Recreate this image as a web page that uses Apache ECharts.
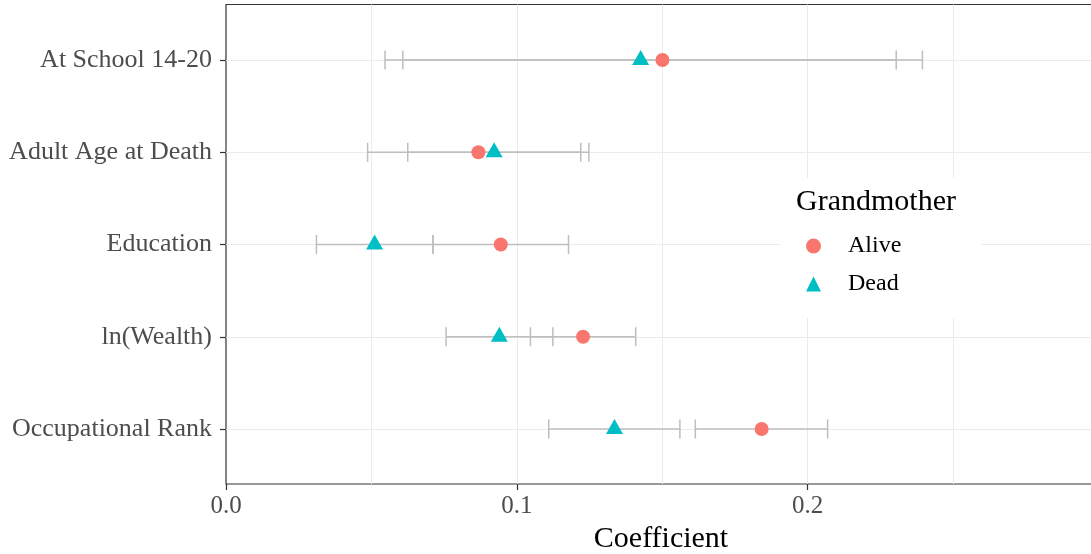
<!DOCTYPE html>
<html>
<head>
<meta charset="utf-8">
<script src="https://cdn.jsdelivr.net/npm/echarts@6/dist/echarts.min.js"></script>
<style>
html,body{margin:0;padding:0;background:#fff;}
#chart{width:1091px;height:554px;}
</style>
</head>
<body>
<div id="chart"></div>
<script>
var categories = ['At School 14-20', 'Adult Age at Death', 'Education', 'ln(Wealth)', 'Occupational Rank'];
var aliveEst = [0.1501, 0.0868, 0.0945, 0.1228, 0.1842];
var aliveLo  = [0.0608, 0.0487, 0.0712, 0.1047, 0.1614];
var aliveHi  = [0.2395, 0.1248, 0.1178, 0.1409, 0.2069];
var deadEst  = [0.1426, 0.0922, 0.0511, 0.0940, 0.1336];
var deadLo   = [0.0547, 0.0625, 0.0311, 0.0757, 0.1110];
var deadHi   = [0.2305, 0.1220, 0.0712, 0.1124, 0.1561];
var xTickLabels = ['0.0', '0.1', '0.2'];

var FONT = 'Liberation Serif';
var xMin = 0, xMax = 0.2992;

function ciData(lo, hi) {
  return lo.map(function (v, i) { return [v, hi[i], i]; });
}
function ptData(est) {
  return est.map(function (v, i) { return [v, i]; });
}
function errRender(params, api) {
  var idx = api.value(2);
  var a = api.coord([api.value(0), idx]);
  var b = api.coord([api.value(1), idx]);
  var h = 9.5;
  var st = { stroke: '#bebebe', lineWidth: 1.5, fill: null };
  return {
    type: 'group',
    children: [
      { type: 'line', shape: { x1: a[0], y1: a[1], x2: b[0], y2: b[1] }, style: st },
      { type: 'line', shape: { x1: a[0], y1: a[1] - h, x2: a[0], y2: a[1] + h }, style: st },
      { type: 'line', shape: { x1: b[0], y1: b[1] - h, x2: b[0], y2: b[1] + h }, style: st }
    ]
  };
}

var chart = echarts.init(document.getElementById('chart'), null, { renderer: 'canvas' });
chart.setOption({
  animation: false,
  backgroundColor: '#fff',
  textStyle: { fontFamily: FONT },
  title: {
    text: 'Grandmother',
    left: 796, top: 187,
    padding: 0,
    textStyle: { fontFamily: FONT, fontSize: 30, fontWeight: 'normal', color: '#000' }
  },
  legend: {
    data: [{ name: 'Alive', icon: 'circle' }, { name: 'Dead', icon: 'triangle' }],
    orient: 'vertical',
    left: 780, top: 178,
    padding: [56, 80, 22, 26],
    backgroundColor: '#fff',
    itemWidth: 15, itemHeight: 15,
    itemGap: 14,
    textStyle: { fontFamily: FONT, fontSize: 24, color: '#000', lineHeight: 24, padding: [0, 0, 0, 22] }
  },
  grid: [
    { left: 226, width: 870, top: 4.5, height: 479.5, outerBoundsMode: 'none', containLabel: false,
      show: true, borderColor: '#333', borderWidth: 1.2, backgroundColor: 'transparent' },
    { left: 226, width: 870, top: 60, height: 369, outerBoundsMode: 'none', containLabel: false }
  ],
  xAxis: [
    {
      gridIndex: 0, type: 'value', min: xMin, max: xMax, interval: 0.1,
      name: 'Coefficient', nameLocation: 'middle', nameGap: 40,
      nameTextStyle: { fontFamily: FONT, fontSize: 30, color: '#000' },
      axisLine: { show: false },
      axisTick: { show: true, length: 6, lineStyle: { color: '#333', width: 1.2 } },
      axisLabel: {
        margin: 10, fontFamily: FONT, fontSize: 25, color: '#4d4d4d', showMaxLabel: false,
        formatter: function (v) {
          var k = Math.round(v * 10);
          return Math.abs(v * 10 - k) < 1e-6 && xTickLabels[k] !== undefined ? xTickLabels[k] : '';
        }
      },
      splitLine: { show: true, showMinLine: false, lineStyle: { color: '#ebebeb', width: 1 } },
      minorTick: { show: false, splitNumber: 2 },
      minorSplitLine: { show: true, lineStyle: { color: '#ebebeb', width: 1 } }
    },
    { gridIndex: 1, type: 'value', min: xMin, max: xMax, show: false }
  ],
  yAxis: [
    { gridIndex: 0, type: 'value', show: false },
    {
      gridIndex: 1, type: 'category', data: categories, inverse: true, boundaryGap: false,
      axisLine: { show: false },
      axisTick: { show: true, length: 6, lineStyle: { color: '#333', width: 1.2 } },
      axisLabel: { margin: 14, fontFamily: FONT, fontSize: 26, color: '#4d4d4d' },
      splitLine: { show: true, lineStyle: { color: '#ebebeb', width: 1 } }
    }
  ],
  series: [
    { name: 'Alive CI', type: 'custom', xAxisIndex: 1, yAxisIndex: 1, renderItem: errRender,
      encode: { x: [0, 1], y: 2 }, data: ciData(aliveLo, aliveHi), z: 1, silent: true },
    { name: 'Dead CI', type: 'custom', xAxisIndex: 1, yAxisIndex: 1, renderItem: errRender,
      encode: { x: [0, 1], y: 2 }, data: ciData(deadLo, deadHi), z: 1, silent: true },
    { name: 'Alive', type: 'scatter', xAxisIndex: 1, yAxisIndex: 1, symbol: 'circle', symbolSize: 14,
      itemStyle: { color: '#F8766D', opacity: 1 }, data: ptData(aliveEst), z: 3 },
    { name: 'Dead', type: 'scatter', xAxisIndex: 1, yAxisIndex: 1, symbol: 'triangle', symbolSize: [17, 15],
      symbolOffset: [0, -2.5], itemStyle: { color: '#00BFC4', opacity: 1 }, data: ptData(deadEst), z: 3 }
  ]
});
</script>
</body>
</html>
